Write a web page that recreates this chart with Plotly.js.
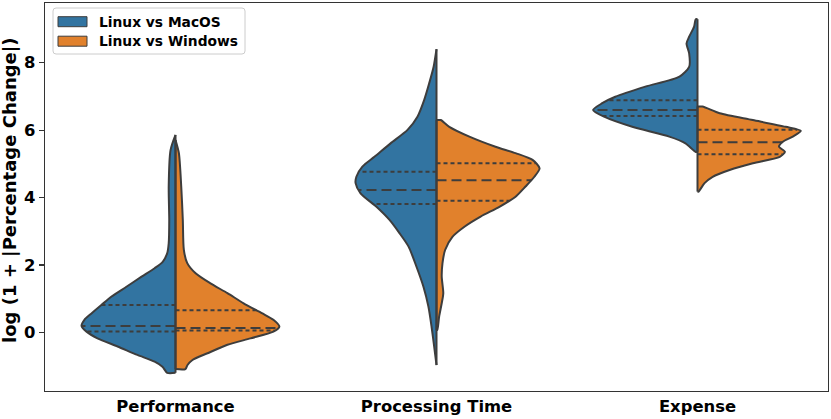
<!DOCTYPE html>
<html>
<head>
<meta charset="utf-8">
<script src="https://cdn.plot.ly/plotly-3.0.1.min.js"></script>
<style>html,body{margin:0;padding:0;background:#fff;}#chart{width:831px;height:419px;}</style>
</head>
<body>
<div id="chart"></div>
<script>
// ---- data ----
const categories = ['Performance', 'Processing Time', 'Expense'];
const seriesNames = ['Linux vs MacOS', 'Linux vs Windows'];
const seriesColors = ['#3274a1', '#e1812c'];

// density outlines: y levels (top -> bottom) and half-widths (x-axis units)
const perfMacY = [5.86, 5.41, 4.33, 3.34, 2.65, 2.35, 2.10, 1.91, 1.66, 1.36, 1.07, 0.82, 0.57, 0.38, 0.20, 0.03, -0.17, -0.41, -0.66, -0.86, -1.01, -1.19];
const perfMacW = [0, 0.019, 0.026, 0.024, 0.026, 0.032, 0.049, 0.080, 0.130, 0.188, 0.245, 0.284, 0.322, 0.349, 0.360, 0.341, 0.299, 0.222, 0.146, 0.080, 0.050, 0.032];
const perfWinY = [5.71, 5.32, 4.33, 3.34, 2.45, 2.06, 1.76, 1.46, 1.17, 0.87, 0.57, 0.38, 0.18, 0.03, -0.17, -0.36, -0.61, -0.81, -0.96, -1.08];
const perfWinW = [0, 0.013, 0.022, 0.028, 0.032, 0.045, 0.077, 0.134, 0.199, 0.261, 0.333, 0.375, 0.398, 0.375, 0.287, 0.199, 0.123, 0.065, 0.046, 0.038];

const procMacY = [8.40, 7.88, 7.39, 6.90, 6.40, 6.01, 5.61, 5.21, 4.92, 4.62, 4.43, 4.13, 3.73, 3.34, 2.95, 2.55, 1.96, 1.36, 0.77, 0.18, -0.41, -0.96];
const procMacW = [0, 0.011, 0.028, 0.047, 0.073, 0.111, 0.176, 0.238, 0.284, 0.307, 0.310, 0.291, 0.230, 0.180, 0.142, 0.107, 0.077, 0.050, 0.031, 0.019, 0.009, 0];
const procWinY = [6.30, 6.10, 5.81, 5.51, 5.32, 5.12, 4.87, 4.62, 4.33, 4.03, 3.73, 3.44, 3.14, 2.84, 2.45, 2.06, 1.66, 1.17, 0.87, 0.47, 0.08];
const procWinW = [0.016, 0.049, 0.126, 0.226, 0.303, 0.368, 0.395, 0.375, 0.341, 0.303, 0.241, 0.169, 0.107, 0.061, 0.033, 0.023, 0.020, 0.026, 0.020, 0.010, 0.003];

const expMacY = [9.29, 9.07, 8.77, 8.57, 8.28, 7.88, 7.59, 7.29, 6.99, 6.80, 6.60, 6.40, 6.10, 5.81, 5.61, 5.36];
const expMacW = [0.007, 0.013, 0.032, 0.042, 0.032, 0.032, 0.069, 0.200, 0.315, 0.365, 0.400, 0.358, 0.250, 0.108, 0.046, 0.008];
const expWinY = [6.70, 6.50, 6.30, 6.10, 5.98, 5.81, 5.66, 5.51, 5.36, 5.21, 5.02, 4.82, 4.62, 4.43, 4.18];
const expWinW = [0.019, 0.085, 0.212, 0.338, 0.396, 0.365, 0.327, 0.312, 0.335, 0.315, 0.212, 0.123, 0.058, 0.027, 0.004];

// quartiles per category
const macQ1 = [0.03, 3.81, 6.42];
const macMed = [0.20, 4.23, 6.60];
const macQ3 = [0.82, 4.77, 6.89];
const winQ1 = [0.06, 3.91, 5.29];
const winMed = [0.14, 4.52, 5.64];
const winQ3 = [0.66, 5.02, 6.01];

const yTicks = [0, 2, 4, 6, 8];
const yTitle = 'log (1 + |Percentage Change|)';

// ---- build ----
const edge = '#3d3d3d';
const outlines = [
  [[perfMacY, perfMacW], [perfWinY, perfWinW]],
  [[procMacY, procMacW], [procWinY, procWinW]],
  [[expMacY, expMacW], [expWinY, expWinW]]
];
const quart = [[macQ1, macMed, macQ3], [winQ1, winMed, winQ3]];

function widthAt(ys, ws, yv) {
  for (let i = 0; i < ys.length - 1; i++) {
    const a = ys[i], b = ys[i + 1];
    if ((yv <= a && yv >= b)) {
      const t = (a - yv) / (a - b);
      return ws[i] + t * (ws[i + 1] - ws[i]);
    }
  }
  return 0;
}

const traces = [];
const lineTraces = [];
categories.forEach((cat, ci) => {
  [0, 1].forEach(si => {
    const ys = outlines[ci][si][0], ws = outlines[ci][si][1];
    const sign = si === 0 ? -1 : 1;
    const x = [ci], y = [ys[0]];
    ys.forEach((yy, k) => { x.push(ci + sign * ws[k]); y.push(yy); });
    x.push(ci); y.push(ys[ys.length - 1]);
    traces.push({
      type: 'scatter', mode: 'lines', x: x, y: y, fill: 'toself',
      fillcolor: seriesColors[si], name: seriesNames[si], showlegend: false,
      line: {color: edge, width: 2, shape: 'spline', smoothing: 0.7},
      hoverinfo: 'skip'
    });
    lineTraces.push({
      type: 'scatter', mode: 'lines', x: [ci, ci], y: [ys[ys.length - 1], ys[0]],
      line: {color: edge, width: 2}, showlegend: false, hoverinfo: 'skip'
    });
    quart[si].forEach((arr, qi) => {
      const yv = arr[ci];
      const w = widthAt(ys, ws, yv);
      lineTraces.push({
        type: 'scatter', mode: 'lines', x: [ci, ci + sign * w], y: [yv, yv],
        line: {color: edge, width: 2, dash: qi === 1 ? '10px,5px' : '4px,3px'},
        showlegend: false, hoverinfo: 'skip'
      });
    });
  });
});

// legend drawn in paper coords (plot area: x 45..828, y 3..391 px)
const L = 45, R = 828, T = 3, B = 391;
const px = v => (v - L) / (R - L);
const py = v => (B - v) / (B - T);
const shapes = [];
const annotations = [];
(function () {
  const x0 = 53, x1 = 245, y0 = 8, y1 = 54, r = 3;
  const path = 'M' + px(x0 + r) + ',' + py(y0) +
    ' L' + px(x1 - r) + ',' + py(y0) +
    ' Q' + px(x1) + ',' + py(y0) + ' ' + px(x1) + ',' + py(y0 + r) +
    ' L' + px(x1) + ',' + py(y1 - r) +
    ' Q' + px(x1) + ',' + py(y1) + ' ' + px(x1 - r) + ',' + py(y1) +
    ' L' + px(x0 + r) + ',' + py(y1) +
    ' Q' + px(x0) + ',' + py(y1) + ' ' + px(x0) + ',' + py(y1 - r) +
    ' L' + px(x0) + ',' + py(y0 + r) +
    ' Q' + px(x0) + ',' + py(y0) + ' ' + px(x0 + r) + ',' + py(y0) + ' Z';
  shapes.push({type: 'path', xref: 'paper', yref: 'paper', path: path,
    fillcolor: 'rgba(255,255,255,0.8)', line: {color: '#cccccc', width: 1}});
})();
seriesNames.forEach((nm, si) => {
  const cy = 21.7 + si * 19.5;
  shapes.push({type: 'rect', xref: 'paper', yref: 'paper',
    x0: px(58), x1: px(87), y0: py(cy - 5), y1: py(cy + 5),
    fillcolor: seriesColors[si], line: {color: edge, width: 1}});
  annotations.push({xref: 'paper', yref: 'paper', x: px(97), y: py(cy),
    xanchor: 'left', yanchor: 'middle', showarrow: false, text: nm,
    font: {family: 'DejaVu Sans', size: 13.8, color: '#000', weight: 'bold'}});
});
annotations.push({xref: 'paper', yref: 'paper', x: px(10), y: py(190),
  xanchor: 'center', yanchor: 'middle', showarrow: false, textangle: -90,
  text: yTitle, font: {family: 'DejaVu Sans', size: 18, color: '#000', weight: 'bold'}});

const layout = {
  width: 831, height: 419,
  margin: {l: L, r: 831 - R, t: T, b: 419 - B, pad: 0},
  paper_bgcolor: '#fff', plot_bgcolor: '#fff',
  showlegend: false,
  font: {family: 'DejaVu Sans', color: '#000'},
  xaxis: {
    range: [-0.5, 2.5], tickvals: [0, 1, 2], ticktext: categories,
    showgrid: false, zeroline: false, showline: true, mirror: true,
    linecolor: '#333', linewidth: 1.3, ticks: '',
    tickfont: {family: 'DejaVu Sans', size: 16.4, color: '#000', weight: 'bold'}
  },
  yaxis: {
    range: [-1.73, 9.77], tickvals: yTicks, ticktext: yTicks.map(String),
    showgrid: false, zeroline: false, showline: true, mirror: true,
    linecolor: '#333', linewidth: 1.3, ticks: 'outside', ticklen: 5, tickwidth: 1.3, tickcolor: '#333',
    tickfont: {family: 'DejaVu Sans', size: 16.4, color: '#000', weight: 'bold'}
  },
  shapes: shapes,
  annotations: annotations
};

Plotly.newPlot('chart', traces.concat(lineTraces), layout, {staticPlot: true});
</script>
</body>
</html>
